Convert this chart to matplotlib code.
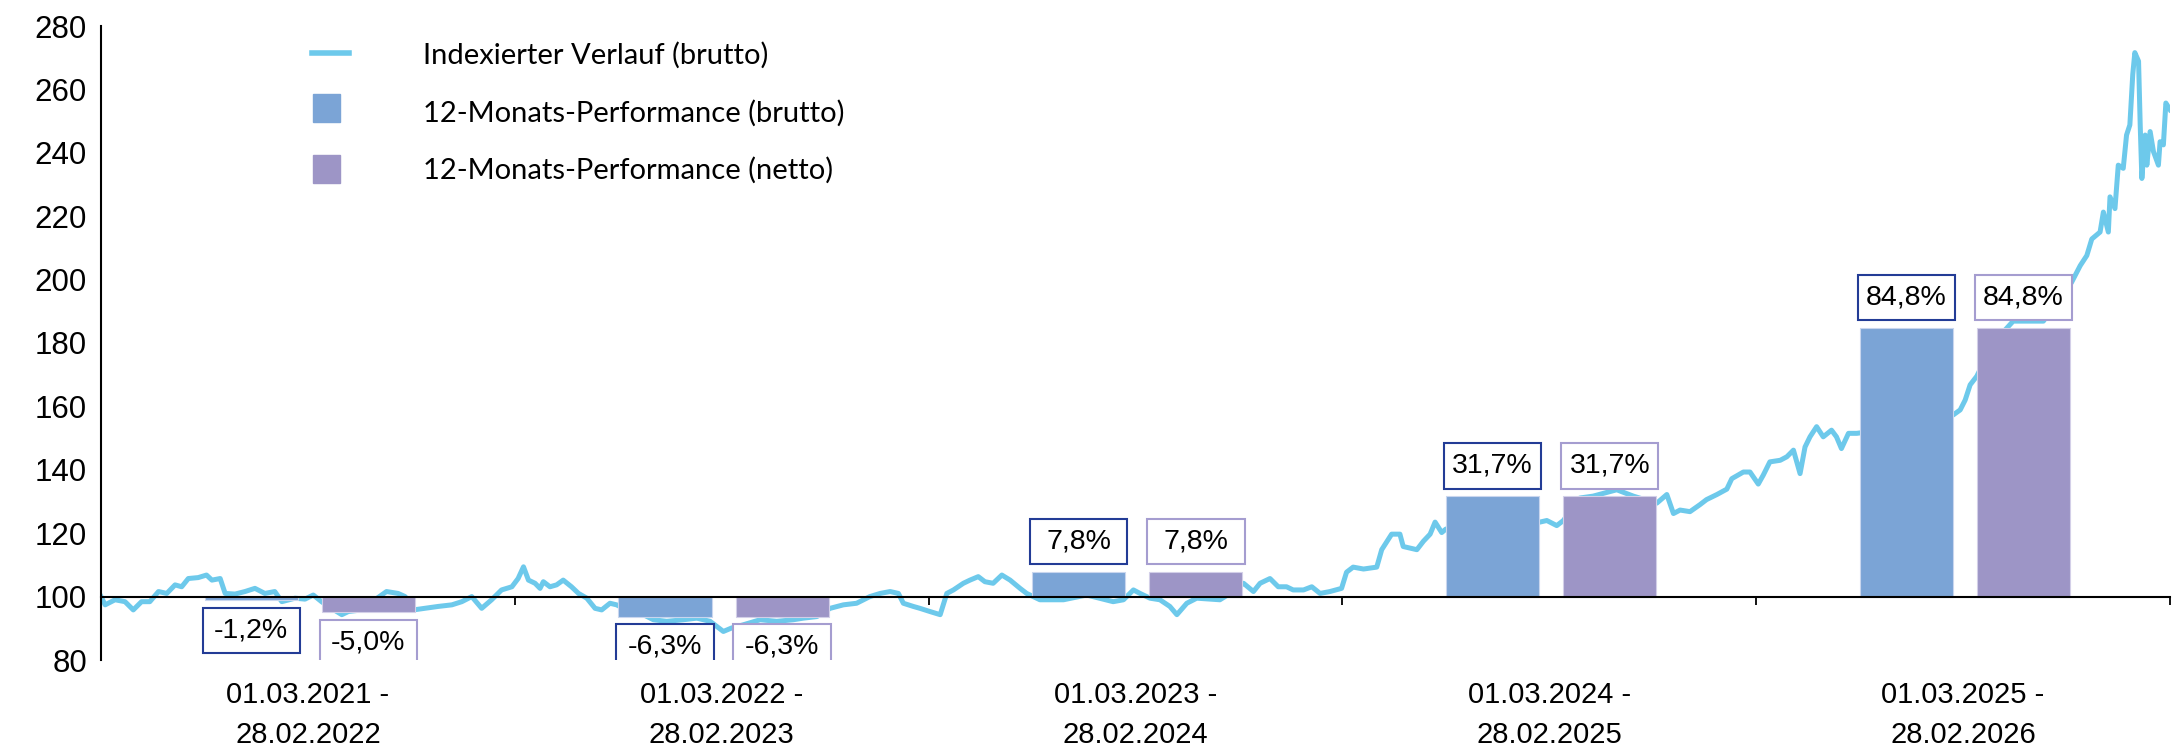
import matplotlib
matplotlib.use("Agg")
import matplotlib.pyplot as plt
from matplotlib.patches import Rectangle
from matplotlib.lines import Line2D
import numpy as np

# ---------------- data ----------------
periods = ["01.03.2021 -\n28.02.2022", "01.03.2022 -\n28.02.2023",
           "01.03.2023 -\n28.02.2024", "01.03.2024 -\n28.02.2025",
           "01.03.2025 -\n28.02.2026"]
perf_brutto = [-1.2, -6.3, 7.8, 31.7, 84.8]
perf_netto = [-5.0, -6.3, 7.8, 31.7, 84.8]
y_ticks = [80, 100, 120, 140, 160, 180, 200, 220, 240, 260, 280]
legend_labels = ["Indexierter Verlauf (brutto)",
                 "12-Monats-Performance (brutto)",
                 "12-Monats-Performance (netto)"]

# indexed path, x in period units (0 = 01.03.2021, 5 = end)
line_t = [0.0, 0.010, 0.034, 0.058, 0.078, 0.098, 0.118, 0.139, 0.159, 0.179, 0.195, 0.211,
          0.235, 0.255, 0.268, 0.288, 0.300, 0.324, 0.348, 0.372, 0.396, 0.420, 0.437, 0.469,
          0.493, 0.513, 0.533, 0.557, 0.582, 0.598, 0.630, 0.662, 0.690, 0.718, 0.735, 0.755,
          0.783, 0.815, 0.848, 0.872, 0.896, 0.920, 0.944, 0.968, 0.993, 1.008, 1.021,
          1.033, 1.049, 1.061, 1.069, 1.085, 1.101, 1.117, 1.137, 1.154, 1.174, 1.194, 1.210,
          1.230, 1.246, 1.270, 1.303, 1.335, 1.367, 1.407, 1.440, 1.472, 1.504, 1.524, 1.552,
          1.593, 1.633, 1.673, 1.697, 1.730, 1.762, 1.794, 1.826, 1.858, 1.883, 1.907, 1.927,
          1.939, 1.963,
          1.979, 2.003, 2.028, 2.044, 2.060, 2.084, 2.100, 2.120, 2.136, 2.156, 2.177, 2.197,
          2.221, 2.237, 2.269, 2.326, 2.382, 2.446, 2.471, 2.495, 2.511, 2.535, 2.559, 2.583,
          2.600, 2.624, 2.648, 2.704, 2.736, 2.761, 2.785, 2.801, 2.825, 2.845, 2.865, 2.881,
          2.906, 2.926, 2.946, 2.970, 2.998,
          3.010, 3.026, 3.051, 3.083, 3.095, 3.119, 3.139, 3.147, 3.180, 3.196, 3.212, 3.224,
          3.240, 3.250, 3.357, 3.477, 3.494, 3.518, 3.534, 3.574, 3.606, 3.663, 3.703, 3.743,
          3.760, 3.784, 3.800, 3.816, 3.840, 3.864, 3.880, 3.905, 3.929, 3.941, 3.969, 3.985,
          4.005, 4.017,
          4.033, 4.058, 4.074, 4.090, 4.106, 4.118, 4.130, 4.146, 4.162, 4.182, 4.194, 4.206,
          4.223, 4.243, 4.364, 4.476, 4.493, 4.505, 4.517, 4.533, 4.573, 4.621, 4.694, 4.762,
          4.783, 4.799, 4.811, 4.831, 4.839, 4.851, 4.855, 4.867, 4.875, 4.887, 4.895, 4.903,
          4.910, 4.915, 4.924, 4.928, 4.932, 4.940, 4.944, 4.952, 4.960, 4.972, 4.976, 4.984,
          4.990, 5.000]
line_index = [100.0, 97.4, 99.0, 98.4, 95.8, 98.4, 98.4, 101.6, 101.0, 103.7, 103.1, 105.7,
              106.0, 106.8, 105.2, 105.7, 101.0, 100.8, 101.6, 102.6, 101.0, 101.6, 98.4, 99.5,
              99.2, 100.5, 98.4, 96.3, 94.3, 95.3, 95.8, 99.0, 101.6, 101.0, 100.0, 95.8,
              96.3, 96.9, 97.4, 98.4, 100.0, 96.3, 99.0, 102.1, 103.1, 105.7, 109.4,
              105.2, 104.2, 102.6, 104.7, 103.1, 103.7, 105.2, 103.1, 101.0, 99.5, 96.3, 95.8,
              97.9, 97.4, 95.8, 94.8, 92.7, 92.2, 92.7, 93.2, 92.2, 89.0, 90.1, 91.1,
              92.7, 92.2, 92.7, 93.2, 93.7, 96.3, 97.4, 97.9, 100.0, 101.0, 101.6, 101.0,
              97.9, 96.9,
              96.3, 95.3, 94.3, 101.0, 102.1, 104.2, 105.2, 106.3, 104.7, 104.2, 106.8, 105.2,
              102.6, 101.0, 99.0, 99.0, 100.5, 98.4, 99.0, 102.1, 101.0, 99.5, 99.0, 96.9,
              94.3, 97.9, 99.5, 99.0, 101.6, 104.2, 101.6, 104.2, 105.7, 103.1, 103.1, 102.1,
              102.1, 103.1, 101.0, 101.6, 102.6,
              107.7, 109.3, 108.7, 109.3, 114.8, 119.7, 119.7, 115.8, 114.8, 117.5, 119.7, 123.5,
              120.2, 121.3, 123.0, 123.5, 124.0, 122.4, 124.0, 131.1, 131.7, 133.7, 131.7, 130.1,
              129.5, 132.2, 126.2, 127.3, 126.8, 129.0, 130.6, 132.2, 133.9, 137.2, 139.3, 139.3,
              135.5, 138.3,
              142.5, 143.0, 144.1, 146.2, 138.8, 147.2, 150.4, 153.6, 150.4, 152.5, 150.4, 146.7,
              151.5, 151.5, 153.6, 157.3, 158.9, 162.0, 166.8, 169.5, 180.0, 186.9, 186.9, 199.1,
              204.4, 207.6, 212.8, 215.0, 221.3, 215.0, 226.1, 222.4, 236.1, 235.1, 245.6, 248.8,
              264.7, 271.6, 268.9, 248.8, 231.9, 245.6, 236.1, 246.7, 240.4, 236.1, 243.5, 242.5,
              255.7, 253.6]

# ---------------- style ----------------
LINE_C = "#6DC9EB"
BRUTTO_C = "#7BA4D6"
NETTO_C = "#9D95C6"
BRUTTO_E = "#233C96"
NETTO_E = "#A59DD0"
FONT = "Liberation Sans"
LEG_FONT = "Lato"

W, H = 2174, 752
fig = plt.figure(figsize=(W / 100, H / 100), dpi=100)
ax = fig.add_axes([101 / W, 92 / H, 2069 / W, 634 / H])
ax.set_xlim(0, 5)
ax.set_ylim(80, 280)

ax.plot(line_t, line_index, color=LINE_C, lw=3.6, zorder=1, solid_joinstyle="round")

centers = np.arange(len(periods)) + 0.5
bw = 0.225
xb = centers - 0.137
xn = centers + 0.146
ax.bar(xb, perf_brutto, bw, bottom=100, color=BRUTTO_C, edgecolor="#C9D6EE", lw=0.8, zorder=2)
ax.bar(xn, perf_netto, bw, bottom=100, color=NETTO_C, edgecolor="#D3CFE8", lw=0.8, zorder=2)

box_w, box_h, gap = 0.235, 14.2, 2.4
for xs, vals, ec in ((xb, perf_brutto, BRUTTO_E), (xn, perf_netto, NETTO_E)):
    for xc, v in zip(xs, vals):
        top = 100 + v
        y0 = top + gap if v >= 0 else top - gap - box_h
        ax.add_patch(Rectangle((xc - box_w / 2, y0), box_w, box_h, facecolor="white",
                               edgecolor=ec, lw=1.5, zorder=3))
        ax.text(xc, y0 + box_h / 2, f"{v:.1f}%".replace(".", ","), ha="center", va="center",
                fontsize=20.5, family=FONT, color="black", zorder=4)

for s in ("top", "right"):
    ax.spines[s].set_visible(False)
ax.spines["bottom"].set_position(("data", 100))
ax.spines["bottom"].set_linewidth(1.5)
ax.spines["left"].set_linewidth(1.5)
ax.spines["bottom"].set_zorder(2.5)

ax.set_xticks(np.arange(len(periods) + 1))
ax.set_xticklabels([])
ax.tick_params(axis="x", which="major", direction="out", length=6, width=1.3, color="black")
ax.set_xticks(centers, minor=True)
ax.set_xticklabels(periods, minor=True, fontsize=21, family=FONT, linespacing=1.55)
ax.tick_params(axis="x", which="minor", length=0, pad=61)

ax.set_yticks(y_ticks)
ax.set_yticklabels([str(v) for v in y_ticks], fontsize=22.5, family=FONT)
ax.tick_params(axis="y", length=0, pad=10)

# legend (manual)
def fx(px):
    return px / W

def fy(py):
    return 1 - py / H

fig.add_artist(Line2D([fx(312), fx(349)], [fy(52.7), fy(52.7)], color=LINE_C, lw=4,
                      transform=fig.transFigure))
fig.add_artist(Rectangle((fx(313), fy(122)), 27 / W, 28 / H, color=BRUTTO_C,
                         transform=fig.transFigure))
fig.add_artist(Rectangle((fx(313), fy(183)), 27 / W, 28 / H, color=NETTO_C,
                         transform=fig.transFigure))
for lab, py in zip(legend_labels, (55.5, 113.7, 170.5)):
    fig.text(fx(423), fy(py), lab, ha="left", va="center", fontsize=21, family=LEG_FONT)

fig.savefig("out.png", dpi=100)
